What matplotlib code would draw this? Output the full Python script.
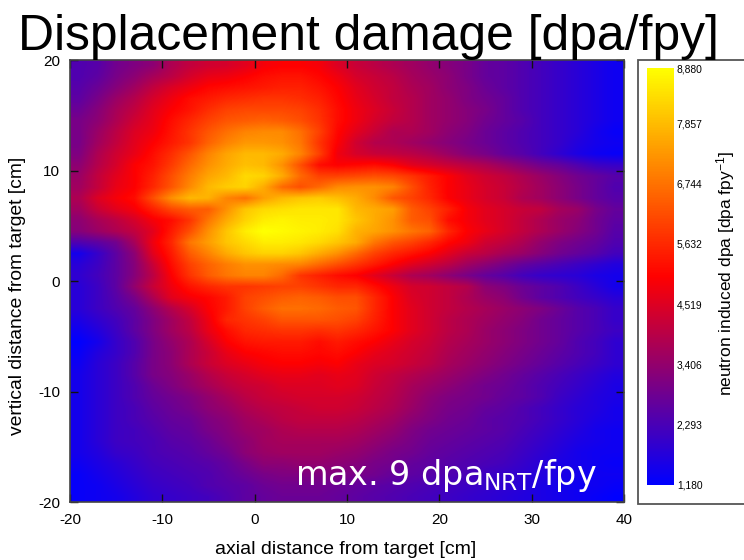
import numpy as np
import matplotlib
matplotlib.use('Agg')
import matplotlib.pyplot as plt
from matplotlib.colors import LinearSegmentedColormap
from matplotlib.patches import Rectangle

plt.rcParams['font.family'] = ['Liberation Sans', 'DejaVu Sans']
plt.rcParams['mathtext.fontset'] = 'custom'
plt.rcParams['mathtext.rm'] = 'Liberation Sans'
plt.rcParams['mathtext.default'] = 'regular'
plt.rcParams['axes.unicode_minus'] = False

# dpa/fpy in units of 100, rows from y=19.5 down to y=-19.5, columns x=-19,-17,...,39
dpa_rows = [
    [24,25,29,31,33,38,41,43,44,46,49,50,50,49,45,42,40,38,36,34,32,30,27,26,24,22,20,18,16,14],
    [24,26,30,33,37,40,44,47,48,50,52,53,53,51,48,44,42,40,37,35,33,30,27,26,24,22,20,18,16,14],
    [25,28,32,36,41,45,48,51,52,53,54,55,55,53,50,46,43,41,38,36,33,31,28,26,24,22,20,18,16,14],
    [26,30,35,39,44,48,52,54,56,57,58,58,57,55,51,47,44,41,39,36,34,31,29,27,24,22,20,18,16,14],
    [28,32,37,41,46,50,53,57,60,61,61,61,60,57,52,48,45,42,39,36,34,32,30,27,24,22,20,18,16,14],
    [30,33,38,43,47,52,56,60,63,64,65,64,62,58,52,48,44,41,39,36,34,32,29,27,25,22,20,18,16,14],
    [30,35,40,45,48,53,58,63,67,70,71,71,67,60,51,46,42,38,38,36,33,31,28,26,24,22,20,18,15,13],
    [30,36,41,46,50,54,58,65,70,73,73,72,68,58,50,43,39,38,36,34,32,30,28,26,24,22,20,17,15,14],
    [31,38,43,47,52,57,63,70,75,78,78,76,70,60,48,44,42,41,40,38,35,32,30,27,25,22,19,16,14,13],
    [33,39,44,50,53,59,66,72,76,79,78,72,62,52,50,51,52,50,46,44,42,40,38,35,32,29,27,24,21,20],
    [35,41,46,50,55,62,69,75,78,83,82,76,66,60,60,61,62,61,58,54,50,46,43,41,38,35,32,29,27,25],
    [36,41,47,50,56,63,71,78,81,82,76,66,62,66,71,72,72,70,62,55,50,47,44,42,39,36,33,30,27,24],
    [38,45,49,52,62,72,78,77,70,67,74,78,80,81,79,76,71,63,60,56,50,47,44,42,38,36,33,30,27,25],
    [36,42,46,49,55,61,64,64,72,80,83,84,85,85,85,78,76,74,64,60,55,49,46,44,42,41,37,35,30,27],
    [33,37,40,44,49,52,58,68,76,82,86,87,86,86,85,80,76,72,64,62,52,49,46,44,41,38,35,33,29,26],
    [32,35,38,41,46,54,62,72,80,86,89,88,87,86,84,77,75,72,68,65,56,50,47,44,41,38,35,32,29,25],
    [24,26,29,37,48,56,68,74,80,83,86,86,85,83,80,76,68,63,60,56,51,48,43,41,38,34,31,29,27,24],
    [15,20,26,33,46,54,64,70,76,80,82,82,80,76,72,66,60,56,53,50,46,42,40,37,35,32,29,27,25,22],
    [18,21,26,32,42,52,60,65,69,72,72,71,70,66,62,58,54,50,46,43,40,36,33,30,27,25,23,21,19,17],
    [19,22,26,32,40,50,58,64,68,70,70,66,58,55,52,50,46,42,38,36,33,30,27,25,22,20,19,18,16,15],
    [18,21,26,34,42,48,53,56,58,58,59,60,60,58,56,56,52,48,44,43,41,39,33,31,28,26,24,21,18,15],
    [18,21,25,30,38,46,49,51,54,60,62,64,65,64,62,62,56,50,45,43,41,38,35,33,29,26,24,22,20,18],
    [18,21,24,27,33,39,44,50,54,60,64,67,67,66,64,63,56,50,46,43,41,39,37,35,33,31,28,25,23,20],
    [16,19,22,26,31,36,41,48,56,58,60,63,63,63,62,60,55,50,46,43,40,38,36,34,32,29,27,25,23,20],
    [14,17,21,26,31,36,40,47,52,56,57,58,58,57,58,56,53,50,46,43,40,38,35,33,31,29,27,25,23,21],
    [12,15,20,24,30,34,38,44,50,53,54,54,54,52,54,52,50,47,44,42,39,37,35,33,31,29,27,24,22,19],
    [13,17,20,24,30,33,38,42,47,50,51,52,52,51,52,50,47,45,43,41,38,36,34,32,30,28,26,24,22,19],
    [14,18,21,25,30,33,38,42,45,47,49,50,50,49,50,47,45,44,42,40,37,35,33,31,29,27,25,23,21,19],
    [15,18,21,25,30,32,35,39,42,44,46,47,47,46,47,46,43,41,39,37,35,33,31,29,27,25,23,21,19,17],
    [15,18,21,24,28,31,34,37,40,42,43,45,45,45,46,45,42,40,37,35,33,31,29,28,26,24,22,20,18,16],
    [15,18,21,24,27,29,31,34,37,40,42,43,44,44,44,43,41,39,36,33,31,30,29,27,26,24,21,19,17,16],
    [15,18,21,23,26,28,30,33,35,38,40,41,42,43,43,42,40,38,35,32,30,29,27,26,24,22,20,18,17,15],
    [15,18,21,23,25,27,28,31,33,36,38,40,41,41,41,40,38,36,33,31,29,28,26,25,24,22,20,18,16,15],
    [15,18,21,22,24,26,27,30,32,35,36,38,39,39,39,38,36,34,31,29,28,27,26,25,23,21,19,17,15,14],
    [15,18,21,22,23,25,26,28,31,33,36,37,37,37,37,36,34,32,30,28,27,26,25,24,22,20,18,16,15,14],
    [15,17,20,21,23,24,25,27,29,33,35,36,36,36,35,34,32,30,29,27,26,25,24,23,21,19,17,15,14,14],
    [14,16,18,20,22,23,24,25,27,30,33,33,34,34,33,32,30,29,27,26,25,24,23,22,20,18,16,15,14,13],
    [13,15,17,19,21,22,23,24,26,28,30,31,31,31,31,30,29,27,26,25,24,23,21,20,19,17,16,15,14,14],
    [13,14,16,18,20,21,22,24,25,26,28,29,29,29,28,27,26,25,24,23,22,21,20,19,18,16,15,14,14,13],
    [13,14,15,17,19,20,21,22,24,26,27,28,28,28,27,26,25,24,23,22,21,20,19,18,17,16,15,14,13,12],
]
x_ticks = [-20, -10, 0, 10, 20, 30, 40]
y_ticks = [-20, -10, 0, 10, 20]
cbar_ticks = [1180, 2293, 3406, 4519, 5632, 6744, 7857, 8880]

W, H = 744, 560
fig = plt.figure(figsize=(W / 100, H / 100), dpi=100)
cmap = LinearSegmentedColormap.from_list('byr', ['#0000ff', '#ff0000', '#ffff00'])

ax = fig.add_axes([70 / W, 1 - 502 / H, 554 / W, 442 / H])
dpa = np.array(dpa_rows) * 100
im = ax.imshow(dpa, cmap=cmap, vmin=1180, vmax=8880, extent=[-20, 40, -20, 20],
               aspect='auto', interpolation='bilinear')
ax.set_xticks(x_ticks)
ax.set_yticks(y_ticks)
ax.tick_params(direction='in', top=True, right=True, length=5.5, width=1, labelsize=11, color='#111111')
ax.tick_params(axis='x', pad=8)
ax.tick_params(axis='y', pad=7)
for s in ax.spines.values():
    s.set_color('#444444')
    s.set_linewidth(1.2)

# legend frame runs off the right edge
fig.add_artist(Rectangle((637.5 / W, 1 - 503.5 / H), 120 / W, 444 / H, transform=fig.transFigure,
                         facecolor='white', edgecolor='#555555', linewidth=1.3, zorder=0))
cax = fig.add_axes([647 / W, 1 - 485 / H, 27 / W, 417 / H])
cb = fig.colorbar(im, cax=cax, ticks=cbar_ticks)
cb.ax.set_yticklabels([f'{t:,}' for t in cbar_ticks])
cb.ax.tick_params(length=0, labelsize=7.4, pad=2)
cb.outline.set_visible(False)

fig.text(18 / W, 1 - 50 / H, 'Displacement damage [dpa/fpy]', fontsize=35.8, color='black', va='baseline', ha='left')
fig.text(346 / W, 1 - 549 / H, 'axial distance from target [cm]', fontsize=14, ha='center', va='center')
fig.text(18 / W, 1 - 296 / H, 'vertical distance from target [cm]', fontsize=13.9, rotation=90, ha='center', va='center')
fig.text(726 / W, 1 - 273 / H, 'neutron induced dpa [dpa fpy$^{-1}$]', fontsize=12.5, rotation=90, ha='center', va='center')
fig.text(295 / W, 1 - 485 / H, r'max. 9 dpa$_{\mathsf{NRT}}$/fpy', fontsize=24, color='white', family='DejaVu Sans',
         ha='left', va='baseline', math_fontfamily='dejavusans')

fig.savefig('out.png', dpi=100)
